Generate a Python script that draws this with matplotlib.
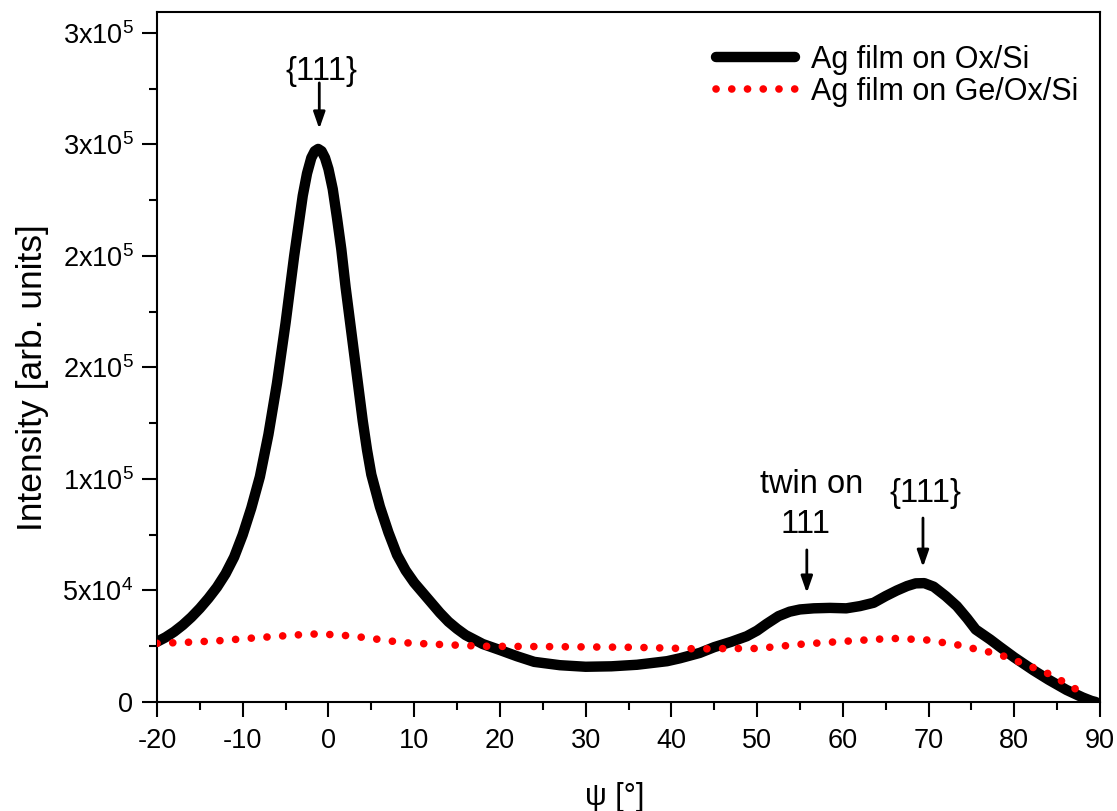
import matplotlib
matplotlib.use("Agg")
import matplotlib.pyplot as plt
import numpy as np

plt.rcParams['font.family'] = ['Liberation Sans', 'DejaVu Sans']
plt.rcParams['mathtext.fontset'] = 'custom'
plt.rcParams['mathtext.rm'] = 'Liberation Sans'
plt.rcParams['mathtext.it'] = 'Liberation Sans:italic'
plt.rcParams['axes.unicode_minus'] = False

# Ag film on Ox/Si (psi in deg, intensity in 1e3 arb. units)
psi_oxsi = [-20, -19, -18, -17, -16, -15, -14, -13, -12, -11, -10, -9, -8, -7, -6,
            -5, -4, -3, -2.5, -2.0, -1.6, -1.2, -0.8, -0.4, 0, 0.5, 1, 1.5, 2, 2.5,
            3, 3.5, 4, 4.5, 5, 6, 7, 8, 9, 10, 11, 12, 13, 14, 15, 16, 17, 18, 20,
            22, 24, 27, 30, 33, 36, 39.5, 41, 43.3, 45, 47, 48.8, 50, 51.1, 52.5,
            53.8, 55, 56.6, 58.5, 60.4, 62, 63.6, 65, 66.3, 67.5, 68.5, 69.5, 70.6,
            72, 73.3, 74.5, 75.5, 77.2, 78.3, 80, 82.2, 84, 86.1, 88, 89, 89.5]
int_oxsi = [27, 29, 31.5, 34.5, 38, 42, 46.5, 51.5, 57.5, 65, 75, 87, 101, 120, 143,
            170, 200, 227, 237, 244, 247, 248, 247, 244, 239, 230, 217, 203, 186, 171,
            156, 141, 126, 113, 102, 87.6, 76, 66, 59, 53.5, 49, 44.5, 40, 36, 32.8, 30, 28, 26, 23.3,
            20.5, 18, 16.5, 15.8, 16, 16.7, 18.3, 19.6, 22, 24.6, 27, 29.5, 32, 35, 38.5,
            40.5, 41.5, 42, 42.2, 42, 43, 44.5, 47.5, 50, 52, 53.2, 53.3, 51.7,
            47.5, 43, 37.5, 32.5, 28, 24.8, 20, 14.3, 10, 5.4, 2, 0.5, 0]

# Ag film on Ge/Ox/Si
psi_ge = [-20, -16.3, -12.7, -9.1, -5.5, -2, 0, 2, 4, 6, 8.7, 13, 18, 27, 36, 43.3,
          46.8, 50, 55.4, 59.3, 64.3, 66.3, 69.8, 73.4, 75.2, 77.2, 79, 80.8, 82.7,
          84.6, 86.3, 88.1]
int_ge = [26.3, 26.8, 27.5, 28.6, 29.6, 30.5, 30.3, 29.8, 29, 28, 26.6, 25.8, 25, 24.8,
          24.5, 23.8, 24, 24, 26, 27, 28.2, 28.5, 27.8, 25.6, 24, 22.3, 20.3, 17.6, 14.7,
          11.7, 7.6, 3.9]

ytick_vals = [0, 5e4, 1e5, 1.5e5, 2e5, 2.5e5, 3e5]
ytick_labels = ['0', r'5x10$^{\mathregular{4}}$', r'1x10$^{\mathregular{5}}$',
                r'2x10$^{\mathregular{5}}$', r'2x10$^{\mathregular{5}}$',
                r'3x10$^{\mathregular{5}}$', r'3x10$^{\mathregular{5}}$']

W, H = 1117, 811
fig = plt.figure(figsize=(W / 100, H / 100), dpi=100)
ax = fig.add_axes([157 / W, 1 - 702 / H, (1100 - 157) / W, (702 - 12) / H])

ax.plot(psi_oxsi, np.array(int_oxsi) * 1e3, color='black', lw=7.5,
        solid_capstyle='round', solid_joinstyle='round', label='Ag film on Ox/Si', zorder=3)
ax.plot(psi_ge, np.array(int_ge) * 1e3, color='#ff0000', lw=5.5,
        linestyle=(0, (0.01, 2.05)), dash_capstyle='round', label='Ag film on Ge/Ox/Si', zorder=4)

ax.set_xlim(-20, 90)
ax.set_ylim(0, 3.094e5)
ax.set_xticks(np.arange(-20, 91, 10))
ax.set_xticks(np.arange(-15, 90, 10), minor=True)
ax.set_yticks(ytick_vals)
ax.set_yticklabels(ytick_labels)
ax.set_yticks(np.arange(2.5e4, 3.0e5, 5e4), minor=True)

for s in ax.spines.values():
    s.set_linewidth(1.5)
ax.tick_params(which='major', direction='out', length=11, width=1.5, labelsize=19.5, pad=6)
ax.tick_params(which='minor', direction='out', length=6, width=1.5)
ax.tick_params(axis='x', which='major', pad=8)

leg = ax.legend(loc='upper right', bbox_to_anchor=(1 - 22 / 943, 1 - 33 / 690),
                frameon=False, fontsize=22, handlelength=2.6, handletextpad=0.5,
                labelspacing=0.05, borderaxespad=0, borderpad=0)

# peak annotations
arrow = dict(arrowstyle='-|>,head_width=0.35,head_length=1.0', color='black', lw=2,
             shrinkA=0, shrinkB=0)
ax.annotate('', xy=(-1.07, 257e3), xytext=(-1.07, 277.6e3), arrowprops=arrow)
ax.annotate('', xy=(55.8, 48.9e3), xytext=(55.8, 68.2e3), arrowprops=arrow)
ax.annotate('', xy=(69.35, 60.5e3), xytext=(69.35, 82.5e3), arrowprops=arrow)
ax.text(-0.8, 279e3, '{111}', ha='center', va='baseline', fontsize=23.5)
ax.text(56.4, 93.7e3, 'twin on', ha='center', va='baseline', fontsize=23.5)
ax.text(55.6, 75.8e3, '111', ha='center', va='baseline', fontsize=23.5)
ax.text(69.6, 89.8e3, '{111}', ha='center', va='baseline', fontsize=23.5)

fig.text(33 / W, 1 - 378 / H, 'Intensity [arb. units]', rotation=90,
         ha='center', va='center', fontsize=25.5)
fig.text(615 / W, 1 - 797 / H, 'ψ [°]', ha='center', va='center', fontsize=22)

fig.savefig('out.png', dpi=100)
